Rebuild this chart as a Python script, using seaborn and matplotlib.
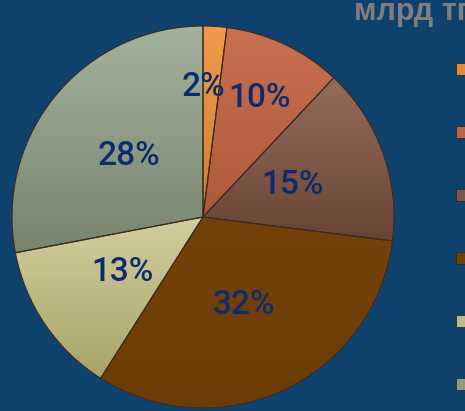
import matplotlib
matplotlib.use('Agg')
import matplotlib.pyplot as plt
from matplotlib.patches import Patch
import numpy as np
import seaborn as sns

# data
categories = ['Статья 1', 'Статья 2', 'Статья 3', 'Статья 4', 'Статья 5', 'Статья 6']
shares = [2, 10, 15, 32, 13, 28]
# top / bottom colours of the shaded slices
top_colors = ['#EE9C4C', '#CA7052', '#966C5C', '#754309', '#D3CE9E', '#A4B19C']
bottom_colors = ['#D27E30', '#AE583A', '#684434', '#6C3C06', '#A8A468', '#78846E']
mid_colors = ['#E08A3C', '#BC6446', '#7E5646', '#703F08', '#C0BA84', '#8E9A84']
# where each percentage sits (fraction of radius)
label_dist = [0.68, 0.69, 0.5, 0.51, 0.51, 0.5]
unit = 'млрд тг'

bg = '#0E426C'
label_color = '#0B2B6E'

sns.set_theme(style='white')
plt.rcParams['font.family'] = ['Roboto', 'DejaVu Sans']

fig = plt.figure(figsize=(4.65, 4.11), dpi=100, facecolor=bg)
ax = fig.add_axes([12 / 465, 3 / 411, 382 / 465, 382 / 411])
ax.set_facecolor(bg)

wedges, texts, autotexts = ax.pie(
    shares, startangle=90, counterclock=False, radius=1,
    autopct='%1.0f%%', pctdistance=0.5,
    wedgeprops=dict(edgecolor='#3A2A20', linewidth=0.8),
    textprops=dict(color=label_color, fontsize=24, fontweight='medium'))

# vertical gradient inside each slice
inv = ax.transData.inverted()
grad = np.linspace(0, 1, 256).reshape(-1, 1)
for w, c1, c2 in zip(wedges, top_colors, bottom_colors):
    bb = w.get_window_extent(fig.canvas.get_renderer()).transformed(inv)
    cmap = sns.blend_palette([c1, c2], as_cmap=True)
    im = ax.imshow(grad, cmap=cmap, aspect='auto', origin='upper',
                   extent=[bb.x0, bb.x1, bb.y0, bb.y1], zorder=1)
    im.set_clip_path(w)
    w.set_facecolor('none')
    w.set_zorder(2)

# place labels along each slice's mid-angle; the tiny first slice is
# labelled on its leading edge, as in the original
for i, (t, w, d) in enumerate(zip(autotexts, wedges, label_dist)):
    ang = w.theta2 if i == 0 else (w.theta1 + w.theta2) / 2
    a = np.deg2rad(ang)
    t.set_position((d * np.cos(a), d * np.sin(a)))
    t.set_zorder(3)

ax.set_xlim(-1, 1)
ax.set_ylim(-1, 1)
ax.set_aspect('equal')
ax.axis('off')

fig.text(354 / 465, 1 - 20 / 411, unit, fontsize=22, fontweight='bold',
         color='#7F7F7F', va='baseline', ha='left',
         family=['Liberation Sans', 'DejaVu Sans'])

# legend sits at the right edge; its labels run off the picture as in the original
handles = [Patch(facecolor=c, edgecolor='#2A2A2A', linewidth=0.6) for c in mid_colors]
fig.legend(handles, categories, loc='upper left',
           bbox_to_anchor=(456 / 465, 1 - 63 / 411), frameon=False,
           fontsize=10, handlelength=1.0, handleheight=0.95,
           labelspacing=3.52, borderpad=0, borderaxespad=0,
           handletextpad=0.6, labelcolor='white')

fig.savefig('out.png', dpi=100, facecolor=bg)
